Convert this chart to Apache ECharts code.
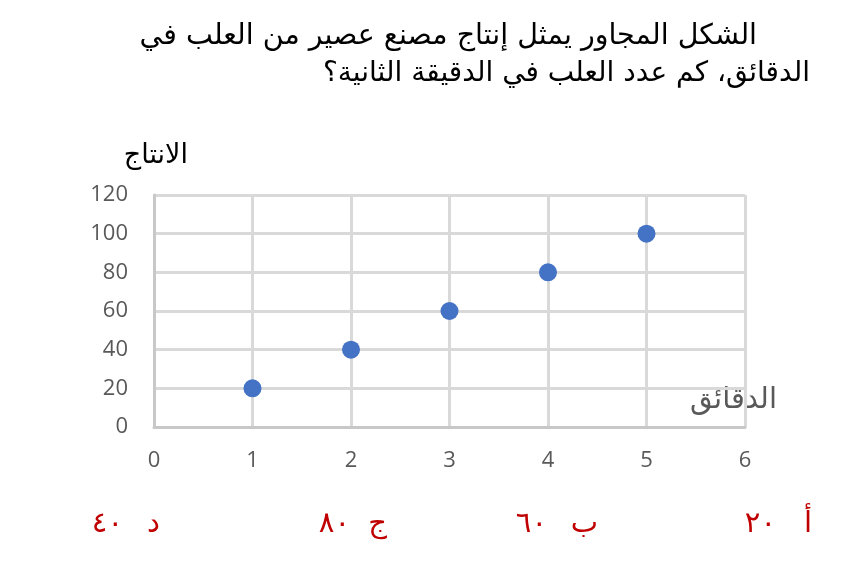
<!DOCTYPE html>
<html>
<head>
<meta charset="utf-8">
<script src="https://cdn.jsdelivr.net/npm/echarts@6/dist/echarts.min.js"></script>
<style>html,body{margin:0;padding:0;background:#fff}#c{width:849px;height:575px}</style>
</head>
<body>
<div id="c" dir="rtl"></div>
<script>
const titleLines = ['الشكل المجاور يمثل إنتاج مصنع عصير من العلب في', 'الدقائق، كم عدد العلب في الدقيقة الثانية؟'];
const minutes = [1, 2, 3, 4, 5];
const production = [20, 40, 60, 80, 100];
const yAxisName = 'الانتاج';
const xAxisName = 'الدقائق';
const choiceLetters = ['أ', 'ب', 'ج', 'د'];
const choiceValues = ['٢٠', '٦٠', '٨٠', '٤٠'];

const chart = echarts.init(document.getElementById('c'));
const letterX = [812, 598, 387, 160];
const valueX = [776, 547, 350, 123];
const graphics = [
  {type:'text', x: 757, y: 37, style:{text: titleLines[0], font:'28.5px "DejaVu Sans"', fill:'#000', textAlign:'right', textVerticalAlign:'middle'}},
  {type:'text', x: 810, y: 74, style:{text: titleLines[1], font:'28px "DejaVu Sans"', fill:'#000', textAlign:'right', textVerticalAlign:'middle'}},
  {type:'text', x: 188, y: 156, style:{text: yAxisName, font:'27px "DejaVu Sans"', fill:'#000', textAlign:'right', textVerticalAlign:'middle'}},
  {type:'text', x: 777, y: 400, style:{text: xAxisName, font:'29px "DejaVu Sans"', fill:'#595959', textAlign:'right', textVerticalAlign:'middle'}}
];
choiceLetters.forEach((l, i) => {
  graphics.push({type:'text', x: letterX[i], y: 524, style:{text: l, font:'29px "DejaVu Sans"', fill:'#c00000', textAlign:'right', textVerticalAlign:'middle'}});
  graphics.push({type:'text', x: valueX[i], y: 524, style:{text: choiceValues[i], font:'29px "DejaVu Sans"', fill:'#c00000', textAlign:'right', textVerticalAlign:'middle'}});
});
chart.setOption({
  animation:false,
  grid:{left:154, right:104, top:195, bottom:148},
  xAxis:{type:'value', min:0, max:6, interval:1,
    axisLine:{show:true, lineStyle:{color:'#c8c8c8', width:3}}, axisTick:{show:false},
    axisLabel:{color:'#595959', fontSize:22, fontFamily:'"Open Sans"', margin:23},
    splitLine:{show:true, lineStyle:{color:'#d9d9d9', width:3}}},
  yAxis:{type:'value', min:0, max:120, interval:20,
    axisLine:{show:true, lineStyle:{color:'#c8c8c8', width:3}}, axisTick:{show:false},
    axisLabel:{color:'#595959', fontSize:22, fontFamily:'"Open Sans"', margin:26},
    splitLine:{show:true, lineStyle:{color:'#d9d9d9', width:3}}},
  series:[{type:'scatter', data: minutes.map((m,i)=>[m, production[i]]), symbolSize:18, itemStyle:{color:'#4472c4', opacity:1}}],
  graphic: graphics
});
</script>
</body>
</html>
